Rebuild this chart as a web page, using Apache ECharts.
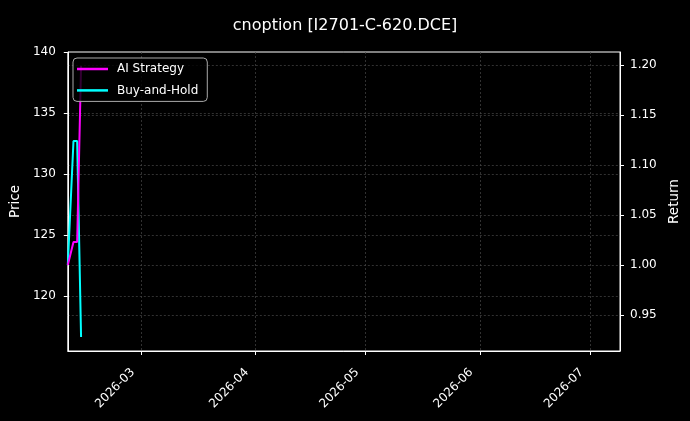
<!DOCTYPE html>
<html>
<head>
<meta charset="utf-8">
<script src="https://cdn.jsdelivr.net/npm/echarts@6/dist/echarts.min.js"></script>
<style>
html,body{margin:0;padding:0;background:#000;}
#c{width:690px;height:421px;}
</style>
</head>
<body>
<div id="c"></div>
<script>
const titleText = 'cnoption [I2701-C-620.DCE]';
const dates = ['2026-02-09 00:00', '2026-02-10 13:00', '2026-02-11 13:00', '2026-02-12 14:30'];
const aiStrategy = [1.0, 1.023, 1.023, 1.199];
const buyHold = [1.0, 1.124, 1.124, 0.928];
const priceTicks = [120, 125, 130, 135, 140];
const returnTicks = [0.95, 1.00, 1.05, 1.10, 1.15, 1.20];
const monthTicks = ['2026-03-01', '2026-04-01', '2026-05-01', '2026-06-01', '2026-07-01'];

function ts(s){ const p = s.split(/[- :]/).map(Number); return new Date(p[0], p[1]-1, p[2], p[3]||0, p[4]||0).getTime(); }
const monthVals = monthTicks.map(ts);
const FONT = 'DejaVu Sans';
const gridStyle = { color: '#474747', type: [2, 2], width: 0.7 };

const chart = echarts.init(document.getElementById('c'));
chart.setOption({
  backgroundColor: '#000',
  animation: false,
  textStyle: { fontFamily: FONT },
  title: {
    text: titleText, left: 'center', top: 13,
    textStyle: { color: '#fff', fontSize: 16, fontWeight: 'normal', fontFamily: FONT }
  },
  grid: { left: 67, right: 70, top: 52, bottom: 70, show: true, borderColor: '#fff', borderWidth: 1, backgroundColor: 'transparent' },
  legend: {
    left: 73, top: 58, orient: 'vertical',
    backgroundColor: 'rgba(0,0,0,0.8)', borderColor: '#aaa', borderWidth: 1, borderRadius: 4,
    padding: [4, 9, 4, 4], itemGap: 7.4, itemWidth: 31, itemHeight: 2.5, icon: 'rect',
    textStyle: { color: '#fff', fontSize: 12, lineHeight: 14, fontFamily: FONT, padding: [0, 0, 0, 4] },
    data: ['AI Strategy', 'Buy-and-Hold']
  },
  xAxis: {
    type: 'value',
    min: ts('2026-02-09 00:00'), max: ts('2026-07-09 03:00'),
    axisLine: { show: true, lineStyle: { color: '#fff' } },
    axisTick: { show: true, length: 4, inside: false, lineStyle: { color: '#fff' }, customValues: monthVals },
    axisLabel: {
      customValues: monthVals, rotate: 45, color: '#fff', fontSize: 12, fontFamily: FONT, margin: 11,
      padding: [0, 12, 0, 0],
      formatter: function (v) { const d = new Date(v); return d.getFullYear() + '-' + String(d.getMonth()+1).padStart(2,'0'); }
    },
    splitLine: { show: true, showMinLine: true, showMaxLine: true, lineStyle: gridStyle }
  },
  yAxis: [
    {
      type: 'value', position: 'left', min: 115.49, max: 140,
      name: 'Price', nameLocation: 'middle', nameGap: 43, nameRotate: 90,
      nameTextStyle: { color: '#fff', fontSize: 13.5, fontFamily: FONT },
      axisLine: { show: true, lineStyle: { color: '#fff' } },
      axisTick: { show: true, length: 4, lineStyle: { color: '#fff' }, customValues: priceTicks },
      axisLabel: { customValues: priceTicks, color: '#fff', fontSize: 12, fontFamily: FONT, margin: 12 },
      splitLine: { show: true, showMinLine: true, showMaxLine: false, lineStyle: gridStyle }
    },
    {
      type: 'value', position: 'right', min: 0.914, max: 1.213,
      name: 'Return', nameLocation: 'middle', nameGap: 45, nameRotate: 90,
      nameTextStyle: { color: '#fff', fontSize: 13.5, fontFamily: FONT },
      axisLine: { show: true, lineStyle: { color: '#fff' } },
      axisTick: { show: true, length: 4, lineStyle: { color: '#fff' }, customValues: returnTicks },
      axisLabel: { customValues: returnTicks, color: '#fff', fontSize: 12, fontFamily: FONT, margin: 10,
        formatter: function (v) { return v.toFixed(2); } },
      splitLine: { show: true, showMinLine: true, showMaxLine: true, lineStyle: gridStyle }
    }
  ],
  series: [
    {
      name: 'AI Strategy', type: 'line', yAxisIndex: 1, symbol: 'none', showSymbol: false,
      data: dates.map((d, i) => [ts(d), aiStrategy[i]]),
      lineStyle: { color: '#ff00ff', width: 2 }, itemStyle: { color: '#ff00ff' }, z: 3
    },
    {
      name: 'Buy-and-Hold', type: 'line', yAxisIndex: 1, symbol: 'none', showSymbol: false,
      data: dates.map((d, i) => [ts(d), buyHold[i]]),
      lineStyle: { color: '#00ffff', width: 2 }, itemStyle: { color: '#00ffff' }, z: 2
    }
  ]
});
</script>
</body>
</html>
